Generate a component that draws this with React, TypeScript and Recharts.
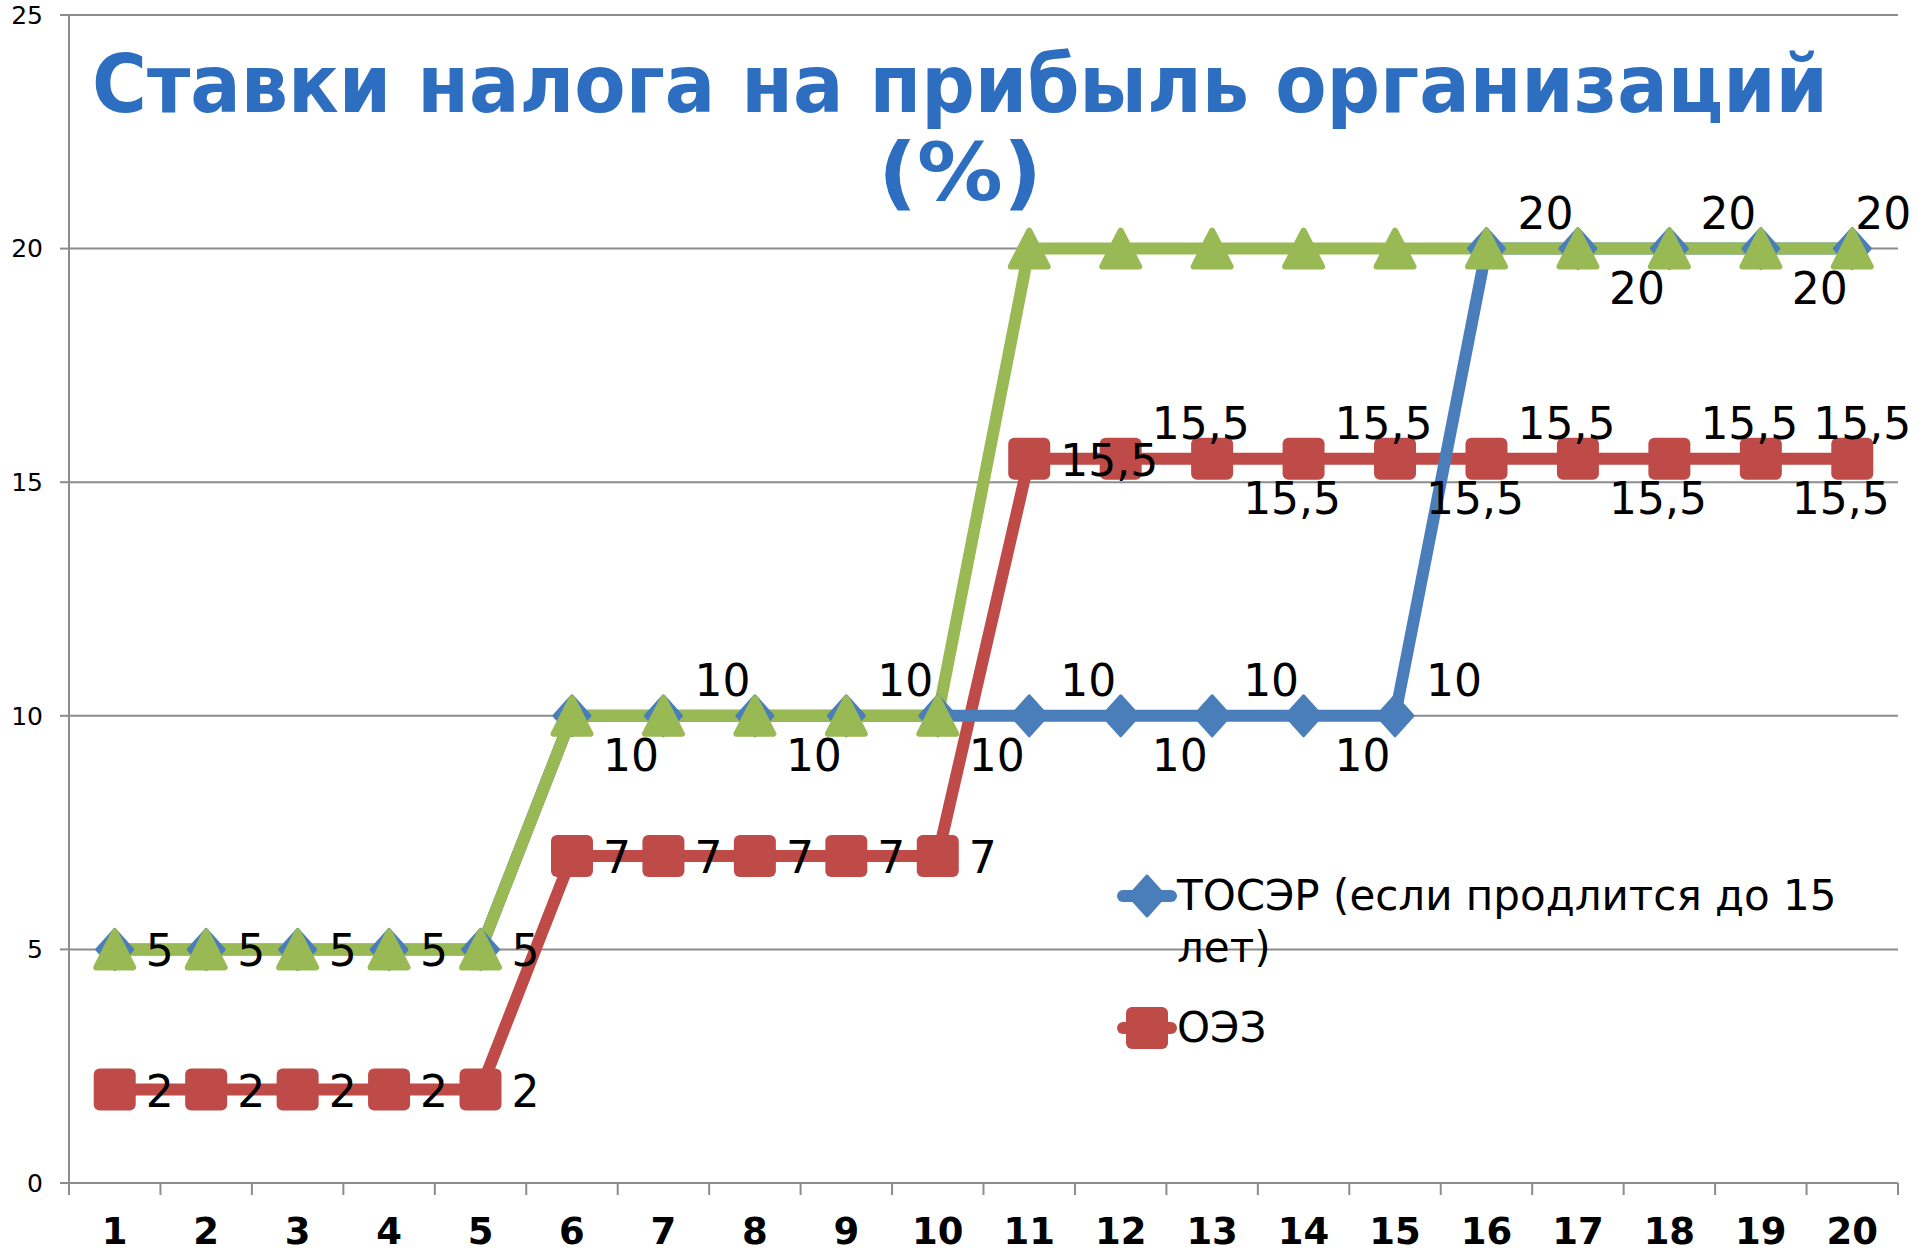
import { LineChart, Line, XAxis, YAxis, CartesianGrid, LabelList, Legend } from "recharts";

const years = [1, 2, 3, 4, 5, 6, 7, 8, 9, 10, 11, 12, 13, 14, 15, 16, 17, 18, 19, 20];
const tosrRates = [5, 5, 5, 5, 5, 10, 10, 10, 10, 10, 10, 10, 10, 10, 10, 20, 20, 20, 20, 20];
const oezRates = [2, 2, 2, 2, 2, 7, 7, 7, 7, 7, 15.5, 15.5, 15.5, 15.5, 15.5, 15.5, 15.5, 15.5, 15.5, 15.5];
const thirdRates = [5, 5, 5, 5, 5, 10, 10, 10, 10, 10, 20, 20, 20, 20, 20, 20, 20, 20, 20, 20];
const yTicks = [0, 5, 10, 15, 20, 25];

const seriesNames = {
  tosr: "ТОСЭР (если продлится до 15 лет)",
  oez: "ОЭЗ",
};

// where each data label sits relative to its point: c = right, a = above-right, b = below-right
const tosrLabelPos = ["c", "c", "c", "c", "c", "b", "a", "b", "a", "b", "a", "b", "a", "b", "a", "a", "b", "a", "b", "a"];
const oezLabelPos = ["c", "c", "c", "c", "c", "c", "c", "c", "c", "c", "c", "a", "b", "a", "b", "a", "b", "a", "b", "a"];

const data = years.map((year, i) => ({
  year,
  tosr: tosrRates[i],
  oez: oezRates[i],
  third: thirdRates[i],
}));

const BLUE = "#4A7EBB";
const RED = "#BE4B48";
const GREEN = "#98B954";
const GRID = "#8c8c8c";
const FONT = "'DejaVu Sans', Verdana, sans-serif";

const CHART_W = 1917;
const CHART_H = 1250;
const MARGIN = { top: 15, right: 19, left: 0, bottom: 0 };
const Y_AXIS_W = 69;
const X_AXIS_H = 67;
const PLOT_W = CHART_W - MARGIN.left - MARGIN.right - Y_AXIS_W;
const BAND = PLOT_W / years.length;
const AXIS_Y = CHART_H - MARGIN.bottom - X_AXIS_H;

const Diamond = ({ cx, cy, color }: any) => (
  <polygon
    points={`${cx},${cy - 20} ${cx + 18},${cy} ${cx},${cy + 20} ${cx - 18},${cy}`}
    fill={color}
    stroke={color}
    strokeWidth={3}
    strokeLinejoin="round"
  />
);

const Square = ({ cx, cy, color }: any) => (
  <rect x={cx - 21} y={cy - 21} width={42} height={42} rx={6} fill={color} />
);

const Triangle = ({ cx, cy, color }: any) => (
  <polygon
    points={`${cx},${cy - 18} ${cx + 18.5},${cy + 18} ${cx - 18.5},${cy + 18}`}
    fill={color}
    stroke={color}
    strokeWidth={6}
    strokeLinejoin="round"
  />
);

const fmt = (v: number) => String(v).replace(".", ",");

const makeLabel = (pos: string[]) => (props: any) => {
  const { x, y, value, index } = props;
  const p = pos[index];
  const dy = p === "a" ? -20 : p === "b" ? 55 : 17;
  const last = index === years.length - 1;
  return (
    <text
      key={`l-${index}`}
      x={last ? x + 59 : x + 31}
      y={y + dy}
      textAnchor={last ? "end" : "start"}
      fontSize={44}
      fontFamily={FONT}
      fill="#000"
    >
      {fmt(value)}
    </text>
  );
};

const XTick = ({ x, payload }: any) => {
  const isLast = payload.value === years[years.length - 1];
  return (
    <g>
      <line x1={x - BAND / 2} x2={x - BAND / 2} y1={AXIS_Y} y2={AXIS_Y + 12} stroke={GRID} strokeWidth={2} />
      {isLast && <line x1={x + BAND / 2} x2={x + BAND / 2} y1={AXIS_Y} y2={AXIS_Y + 12} stroke={GRID} strokeWidth={2} />}
      <text x={x} y={AXIS_Y + 61} textAnchor="middle" fontSize={37} fontWeight="bold" fontFamily={FONT} fill="#000">
        {payload.value}
      </text>
    </g>
  );
};

const LegendIcon = ({ kind }: { kind: string }) => {
  const color = kind === "tosr" ? BLUE : RED;
  return (
    <svg width={60} height={46} style={{ flex: "none" }}>
      <line x1={6} x2={54} y1={23} y2={23} stroke={color} strokeWidth={12} strokeLinecap="round" />
      {kind === "tosr" ? <Diamond cx={30} cy={23} color={color} /> : <Square cx={30} cy={23} color={color} />}
    </svg>
  );
};

const renderLegend = () => (
  <div style={{ fontFamily: FONT, fontSize: 42, lineHeight: "52px", color: "#000" }}>
    <div style={{ display: "flex", alignItems: "flex-start" }}>
      <div style={{ marginTop: 3 }}>
        <LegendIcon kind="tosr" />
      </div>
      <div style={{ width: 700 }}>{seriesNames.tosr}</div>
    </div>
    <div style={{ display: "flex", alignItems: "flex-start", marginTop: 28 }}>
      <div style={{ marginTop: 3 }}>
        <LegendIcon kind="oez" />
      </div>
      <div>{seriesNames.oez}</div>
    </div>
  </div>
);

export default function App() {
  return (
    <div style={{ position: "absolute", left: 0, top: 0, width: CHART_W, height: CHART_H, background: "#fff" }}>
      <LineChart width={CHART_W} height={CHART_H} data={data} margin={MARGIN}>
        <CartesianGrid vertical={false} stroke={GRID} strokeWidth={2} />
        <XAxis
          dataKey="year"
          type="number"
          domain={[0.5, 20.5]}
          ticks={years}
          interval={0}
          height={X_AXIS_H}
          axisLine={{ stroke: GRID, strokeWidth: 2 }}
          tickLine={false}
          tick={<XTick />}
        />
        <YAxis
          domain={[0, 25]}
          ticks={yTicks}
          width={Y_AXIS_W}
          axisLine={{ stroke: GRID, strokeWidth: 2 }}
          tickLine={{ stroke: GRID, strokeWidth: 2 }}
          tickSize={9}
          tickMargin={17}
          tick={{ fontSize: 25, fill: "#000", fontFamily: FONT }}
        />
        <Legend
          layout="horizontal"
          verticalAlign="middle"
          align="center"
          content={renderLegend}
          wrapperStyle={{ position: "absolute", left: 1117, top: 870, width: 800 }}
        />
        <Line
          dataKey="oez"
          name={seriesNames.oez}
          stroke={RED}
          strokeWidth={12}
          isAnimationActive={false}
          dot={(p: any) => <Square key={`s-${p.index}`} cx={p.cx} cy={p.cy} color={RED} />}
          activeDot={false}
        />
        <Line
          dataKey="tosr"
          name={seriesNames.tosr}
          stroke={BLUE}
          strokeWidth={12}
          isAnimationActive={false}
          dot={(p: any) => <Diamond key={`d-${p.index}`} cx={p.cx} cy={p.cy} color={BLUE} />}
          activeDot={false}
        />
        <Line
          dataKey="third"
          legendType="none"
          stroke={GREEN}
          strokeWidth={12}
          isAnimationActive={false}
          dot={(p: any) => <Triangle key={`t-${p.index}`} cx={p.cx} cy={p.cy} color={GREEN} />}
          activeDot={false}
        />
        <Line dataKey="tosr" legendType="none" stroke="none" dot={false} activeDot={false} isAnimationActive={false}>
          <LabelList dataKey="tosr" content={makeLabel(tosrLabelPos)} />
        </Line>
        <Line dataKey="oez" legendType="none" stroke="none" dot={false} activeDot={false} isAnimationActive={false}>
          <LabelList dataKey="oez" content={makeLabel(oezLabelPos)} />
        </Line>
      </LineChart>
      <svg width={CHART_W} height={240} style={{ position: "absolute", left: 0, top: 0, pointerEvents: "none" }}>
        <text x={960} y={112} textAnchor="middle" fontSize={80} fontWeight="bold" fontFamily={FONT} fill="#2E6EC0" textLength={1736} lengthAdjust="spacingAndGlyphs">
          Ставки налога на прибыль организаций
        </text>
        <text x={960} y={200} textAnchor="middle" fontSize={80} fontWeight="bold" fontFamily={FONT} fill="#2E6EC0" textLength={164} lengthAdjust="spacingAndGlyphs">
          (%)
        </text>
      </svg>
    </div>
  );
}
